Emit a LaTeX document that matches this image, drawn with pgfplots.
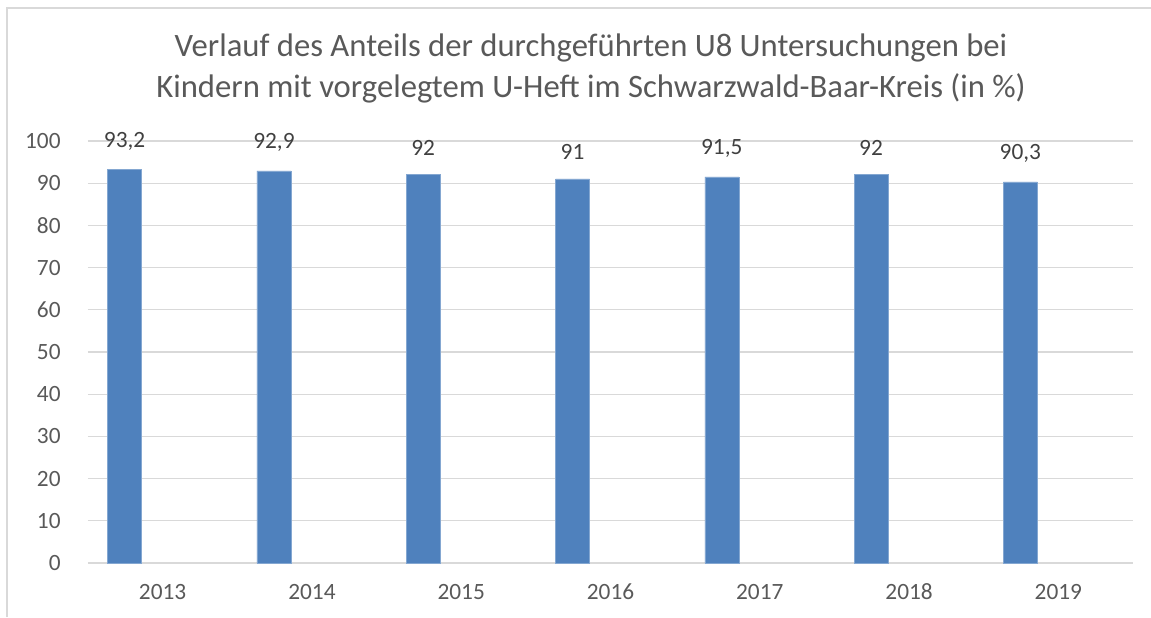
\documentclass[border=0pt]{standalone}
\usepackage{fontspec}
\setmainfont{Carlito}
\usepackage{pgfplots}
\pgfplotsset{compat=1.18}
\definecolor{BarBlue}{RGB}{79,129,189}
\definecolor{GridGray}{RGB}{217,217,217}
\definecolor{TextGray}{RGB}{89,89,89}
\definecolor{LabelGray}{RGB}{64,64,64}

\begin{document}
\begin{tikzpicture}[x=0.75pt,y=0.75pt]
  \useasboundingbox (0,0) rectangle (1151,617);
  % chart frame (only left and top edges visible)
  \draw[GridGray, line width=1.2pt] (7,0) -- (7,609) -- (1151,609);
  \node[align=center, text=TextGray, font=\fontsize{24.5}{30.75}\selectfont]
    at (591,549) {Verlauf des Anteils der durchgeführten U8 Untersuchungen bei\\Kindern mit vorgelegtem U-Heft im Schwarzwald-Baar-Kreis (in \%)};
  \begin{axis}[
      at={(66pt,40.5pt)}, anchor=south west,
      scale only axis,
      width=783.75pt, height=316.5pt,
      xmin=-0.5, xmax=6.5,
      ymin=0, ymax=100,
      ytick={0,10,...,100},
      xtick={0,...,6},
      xticklabels={2013,2014,2015,2016,2017,2018,2019},
      axis line style={draw=none},
      major tick length=0pt,
      ymajorgrids=true,
      grid style={GridGray, line width=0.9pt},
      tick label style={text=TextGray, font=\fontsize{17.5}{20}\selectfont},
      yticklabel style={xshift=-17pt},
      xticklabel style={yshift=-12pt, text height=12pt, text depth=0pt},
      /pgf/number format/assume math mode=true,
      /pgf/number format/use comma,
      clip=false,
    ]
    \addplot[ybar, bar width=0.228, bar shift=-0.254, fill=BarBlue, draw=BarBlue!70!white,
      nodes near coords,
      every node near coord/.append style={text=LabelGray, font=\fontsize{17.5}{20}\selectfont,
        xshift=-28.5pt, yshift=11pt}]
      coordinates {(0,93.2) (1,92.9) (2,92) (3,91) (4,91.5) (5,92) (6,90.3)};
  \end{axis}
\end{tikzpicture}
\end{document}
